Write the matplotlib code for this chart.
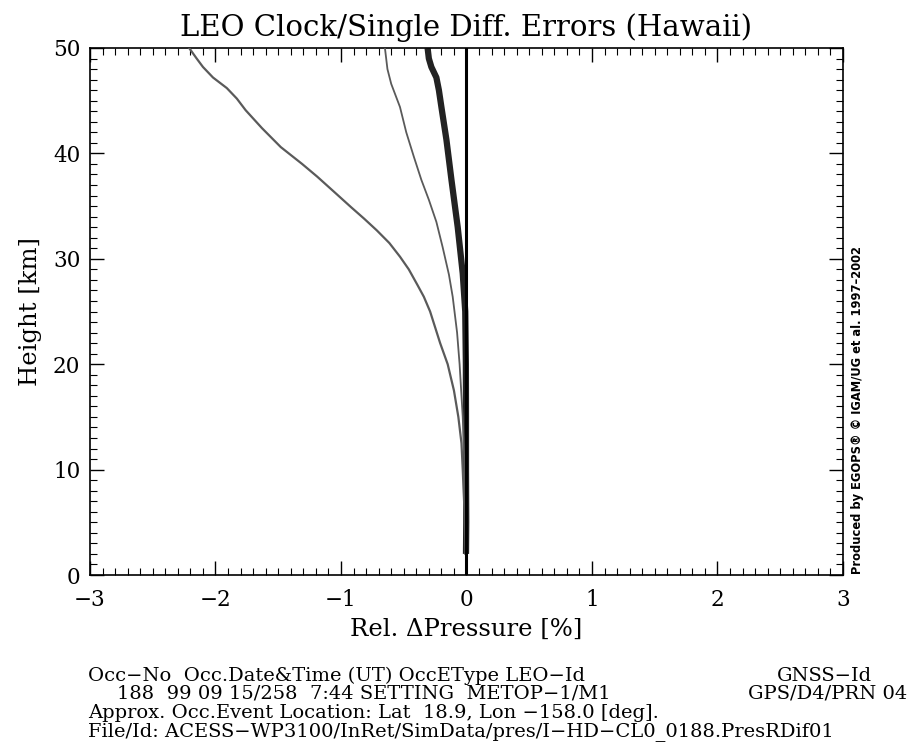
import numpy as np
import matplotlib
matplotlib.use("Agg")
import matplotlib.pyplot as plt

# Daten
# aeussere graue Kurve
h_outer = [2, 5, 10, 12.5, 15, 17.5, 20, 22, 25, 26.4, 27.5, 29, 30.2, 31.5, 32.7,
           33.8, 34.9, 36.3, 37.8, 39, 40.6, 42.4, 44.1, 45.2, 46.2, 47.2, 48.2, 49, 50]
x_outer = [-0.008, -0.012, -0.03, -0.04, -0.065, -0.10, -0.15, -0.21, -0.29, -0.34,
           -0.39, -0.46, -0.53, -0.615, -0.715, -0.815, -0.92, -1.05, -1.19, -1.31,
           -1.48, -1.63, -1.76, -1.83, -1.91, -2.02, -2.10, -2.15, -2.21]
# innere graue Kurve
h_inner = [2, 5, 10, 15, 20, 23, 26.4, 28.5, 31.1, 33.5, 35.6, 37.5, 39.7, 42, 44.4,
           46.6, 48, 50]
x_inner = [-0.005, -0.008, -0.015, -0.03, -0.055, -0.075, -0.11, -0.14, -0.19, -0.24,
           -0.30, -0.36, -0.42, -0.48, -0.53, -0.60, -0.63, -0.65]
# dicke schwarze Kurve
h_thick = [2, 5, 10, 15, 20, 25, 26.8, 28.6, 33.0, 37.5, 41.3, 44.4, 46, 47.2, 48.2,
           49, 50]
x_thick = [-0.004, -0.002, -0.004, -0.004, -0.005, -0.01, -0.02, -0.03, -0.07, -0.12,
           -0.16, -0.20, -0.22, -0.24, -0.28, -0.30, -0.31]

title = "LEO Clock/Single Diff. Errors (Hawaii)"
info1a = "Occ\u2212No  Occ.Date&Time (UT) OccEType LEO\u2212Id"
info1b = "GNSS\u2212Id"
info2a = "188  99 09 15/258  7:44 SETTING  METOP\u22121/M1"
info2b = "GPS/D4/PRN 04"
info3 = "Approx. Occ.Event Location: Lat  18.9, Lon \u2212158.0 [deg]."
info4 = "File/Id: ACESS\u2212WP3100/InRet/SimData/pres/I\u2212HD\u2212CL0_0188.PresRDif01"

plt.rcParams['font.family'] = ['DejaVu Serif']

fig = plt.figure(figsize=(9.23, 7.55), dpi=100)
ax = fig.add_axes([90 / 923, 180 / 755, 753 / 923, 527 / 755])

ax.plot(x_thick, h_thick, color='#222222', lw=4.5, solid_capstyle='butt', zorder=2)
ax.plot(x_outer, h_outer, color='#5a5a5a', lw=1.6, zorder=3)
ax.plot(x_inner, h_inner, color='#5a5a5a', lw=1.3, zorder=3)
ax.axvline(0, color='black', lw=2.2, zorder=4)

ax.set_xlim(-3, 3)
ax.set_ylim(0, 50)
ax.set_xticks([-3, -2, -1, 0, 1, 2, 3])
ax.set_yticks([0, 10, 20, 30, 40, 50])
ax.set_xticks(np.arange(-3, 3.01, 0.1), minor=True)
ax.set_yticks(np.arange(0, 50.1, 1), minor=True)
ax.tick_params(which='both', direction='in', top=True, right=True, labelsize=15.5)
ax.tick_params(which='major', length=10, width=1)
ax.tick_params(which='minor', length=5, width=0.8)
ax.tick_params(axis='x', pad=10)
ax.tick_params(axis='y', pad=7)
for s in ax.spines.values():
    s.set_linewidth(1.2)

ax.set_xlabel("Rel. \u0394Pressure [%]", fontsize=17.5, labelpad=5)
ax.set_ylabel("Height [km]", fontsize=17.5, labelpad=8)
ax.set_title(title, fontsize=21, pad=9)

fs = 14
fig.text(88 / 923, 1 - 676 / 755, info1a, fontsize=fs, va='center')
fig.text(777 / 923, 1 - 676 / 755, info1b, fontsize=fs, va='center')
fig.text(117 / 923, 1 - 694 / 755, info2a, fontsize=fs, va='center')
fig.text(748 / 923, 1 - 694 / 755, info2b, fontsize=fs, va='center')
fig.text(88 / 923, 1 - 713 / 755, info3, fontsize=fs, va='center')
fig.text(88 / 923, 1 - 732 / 755, info4, fontsize=fs, va='center')

fig.text(858 / 923, 1 - 410 / 755,
         "Produced by EGOPS\u00ae \u00a9 IGAM/UG et al. 1997\u20132002",
         rotation=90, fontsize=8.3, fontweight='bold', family='DejaVu Sans',
         ha='center', va='center')

plt.savefig("out.png", dpi=100)
